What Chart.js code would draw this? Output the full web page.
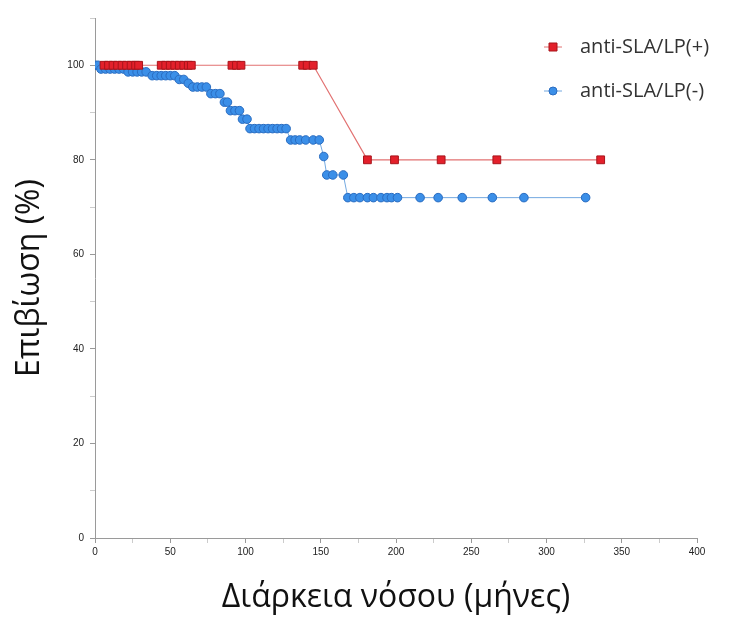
<!DOCTYPE html>
<html>
<head>
<meta charset="utf-8">
<script src="https://cdn.jsdelivr.net/npm/chart.js@4.4.1/dist/chart.umd.min.js"></script>
<style>
  html, body { margin: 0; padding: 0; background: #fff; }
  #wrap { width: 740px; height: 621px; }
</style>
</head>
<body>
<div id="wrap"><canvas id="chart" width="740" height="621"></canvas></div>
<script>
// Σειρές δεδομένων (μήνες / επιβίωση %)
const posLabel = 'anti-SLA/LP(+)';
const posMonths = [6, 9, 12, 15, 18, 21, 24, 27, 29, 44, 47, 50, 53, 56, 59, 62, 64, 91, 94, 97, 138, 141, 145, 181, 199, 230, 267, 336];
const posSurvival = [100, 100, 100, 100, 100, 100, 100, 100, 100, 100, 100, 100, 100, 100, 100, 100, 100, 100, 100, 100, 100, 100, 100, 80, 80, 80, 80, 80];

const negLabel = 'anti-SLA/LP(-)';
const negMonths = [0, 2, 4, 7, 10, 13, 16, 19, 22, 25, 28, 31, 34, 38, 41, 44, 47, 50, 53, 56, 59, 62, 65, 68, 71, 74, 77, 80, 83, 86, 88, 90, 93, 96, 98, 101, 103, 106, 109, 112, 115, 118, 121, 124, 127, 130, 133, 136, 140, 145, 149, 152, 154, 158, 165, 168, 172, 176, 181, 185, 190, 194, 197, 201, 216, 228, 244, 264, 285, 326];
const negSurvival = [100, 100, 99.2, 99.2, 99.2, 99.2, 99.2, 99.2, 98.6, 98.6, 98.6, 98.6, 98.6, 97.8, 97.8, 97.8, 97.8, 97.8, 97.8, 97, 97, 96.2, 95.4, 95.4, 95.4, 95.4, 94, 94, 94, 92.2, 92.2, 90.4, 90.4, 90.4, 88.6, 88.6, 86.6, 86.6, 86.6, 86.6, 86.6, 86.6, 86.6, 86.6, 86.6, 84.2, 84.2, 84.2, 84.2, 84.2, 84.2, 80.7, 76.8, 76.8, 76.8, 72, 72, 72, 72, 72, 72, 72, 72, 72, 72, 72, 72, 72, 72, 72];

// Άξονες
const xTickLabels = [0, 50, 100, 150, 200, 250, 300, 350, 400];
const yTickLabels = [0, 20, 40, 60, 80, 100];

const toPoints = (xs, ys) => xs.map((x, i) => ({ x, y: ys[i] }));

// Υπόμνημα μέσα στην περιοχή του γραφήματος
const insideLegend = {
  id: 'insideLegend',
  afterDraw(chart) {
    const ctx = chart.ctx;
    const rows = [47, 91];
    ctx.save();
    chart.data.datasets.forEach((ds, i) => {
      const y = rows[i];
      const cx = 553;
      ctx.strokeStyle = ds.borderColor;
      ctx.lineWidth = 1;
      ctx.beginPath();
      ctx.moveTo(cx - 9, y);
      ctx.lineTo(cx + 9, y);
      ctx.stroke();
      ctx.fillStyle = ds.pointBackgroundColor;
      ctx.strokeStyle = ds.pointBorderColor;
      ctx.beginPath();
      if (ds.pointStyle === 'rect') {
        ctx.rect(cx - 4, y - 4, 8, 8);
      } else {
        ctx.arc(cx, y, 4, 0, Math.PI * 2);
      }
      ctx.fill();
      ctx.stroke();
      ctx.fillStyle = '#333';
      ctx.font = '20px "Open Sans"';
      ctx.textBaseline = 'middle';
      ctx.fillText(ds.label, 580, y);
    });
    ctx.restore();
  }
};

new Chart(document.getElementById('chart').getContext('2d'), {
  type: 'scatter',
  data: {
    datasets: [{
      label: posLabel,
      data: toPoints(posMonths, posSurvival),
      showLine: true,
      borderColor: '#e27272',
      borderWidth: 1.2,
      pointStyle: 'rect',
      pointRadius: 5.5,
      pointBackgroundColor: '#e3202b',
      pointBorderColor: '#a8141b',
      pointBorderWidth: 1
    }, {
      label: negLabel,
      data: toPoints(negMonths, negSurvival),
      showLine: true,
      borderColor: '#74a9e0',
      borderWidth: 1,
      pointStyle: 'circle',
      pointRadius: 4.3,
      pointBackgroundColor: '#3b8fe8',
      pointBorderColor: '#2a6cc0',
      pointBorderWidth: 1
    }]
  },
  options: {
    responsive: false,
    animation: false,
    layout: { padding: { left: 0, top: 18, right: 43, bottom: 0 } },
    plugins: {
      legend: { display: false },
      tooltip: { enabled: false }
    },
    scales: {
      x: {
        type: 'linear',
        min: 0,
        max: 400,
        afterFit: scale => { scale.height = 83; },
        ticks: {
          stepSize: 25,
          autoSkip: false,
          maxRotation: 0,
          padding: 3,
          color: '#222',
          font: { family: 'Liberation Sans', size: 10 },
          callback: v => xTickLabels.includes(v) ? v : ''
        },
        grid: {
          drawOnChartArea: false,
          tickLength: 5,
          tickColor: c => (c.tick && xTickLabels.includes(c.tick.value)) ? '#999' : '#ccc'
        },
        border: { color: '#9a9a9a', width: 1 },
        title: {
          display: true,
          text: 'Διάρκεια νόσου (μήνες)',
          color: '#111',
          font: { family: 'Open Sans', size: 32 },
          padding: { top: 0, bottom: 4 }
        }
      },
      y: {
        min: 0,
        max: 110,
        afterFit: scale => { scale.width = 95; },
        ticks: {
          stepSize: 10,
          autoSkip: false,
          padding: 6,
          color: '#222',
          font: { family: 'Liberation Sans', size: 10 },
          callback: v => yTickLabels.includes(v) ? v : ''
        },
        grid: {
          drawOnChartArea: false,
          tickLength: 5,
          tickColor: c => (c.tick && yTickLabels.includes(c.tick.value)) ? '#999' : '#ccc'
        },
        border: { color: '#9a9a9a', width: 1 },
        title: {
          display: true,
          text: 'Επιβίωση (%)',
          color: '#111',
          font: { family: 'Open Sans', size: 32 },
          padding: { top: 11, bottom: 0 }
        }
      }
    }
  },
  plugins: [insideLegend]
});
</script>
</body>
</html>
